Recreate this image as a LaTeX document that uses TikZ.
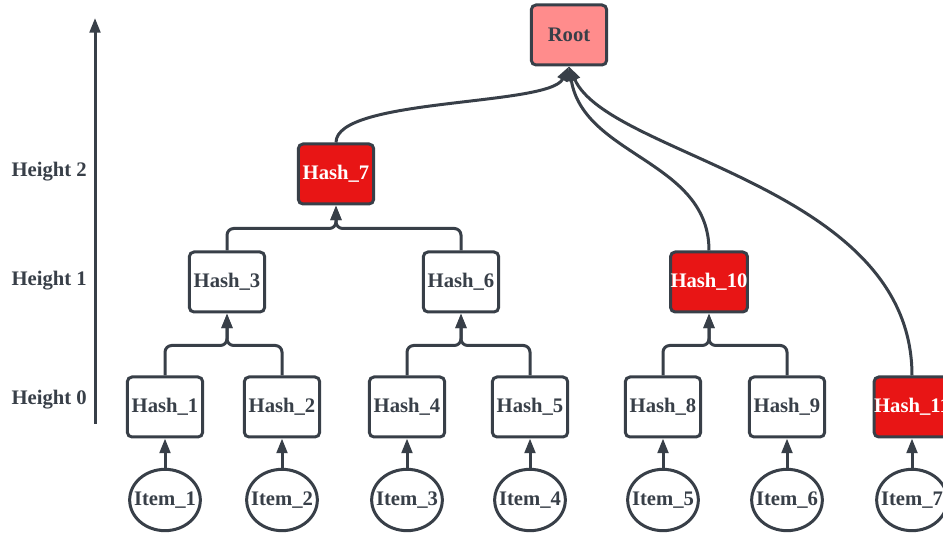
\documentclass[tikz,border=0pt]{standalone}
\usepackage{fontspec}
\setmainfont{Liberation Serif}
\usetikzlibrary{arrows.meta,shapes.geometric,positioning}
\definecolor{ink}{HTML}{383F48}
\definecolor{hashred}{HTML}{E81515}
\definecolor{rootpink}{HTML}{FF8C8C}
\tikzset{
  hbox/.style={draw=ink,line width=2.25pt,rounded corners=3.5pt,fill=white,text=ink,font=\fontsize{15.5}{18}\selectfont\bfseries,minimum width=56.5pt,minimum height=45pt,inner sep=0pt},
  redbox/.style={hbox,fill=hashred,text=white},
  rootbox/.style={hbox,fill=rootpink},
  item/.style={draw=ink,ellipse,line width=2.25pt,fill=white,text=ink,font=\fontsize{15.5}{18}\selectfont\bfseries,minimum width=52pt,minimum height=46pt,inner xsep=-4.5pt,inner ysep=0pt},
  link/.style={draw=ink,line width=2.25pt,-{Triangle[length=11pt,width=8pt]}},
  lvl/.style={font=\fontsize{15.5}{18}\selectfont\bfseries,text=ink,anchor=east,inner sep=0pt}
}
\begin{document}
\begin{tikzpicture}[x=0.75pt,y=0.75pt]
\useasboundingbox (0,0) rectangle (943,535);
\clip (0,0) rectangle (943,535);
% height axis
\coordinate (ax0) at (95,111);
\coordinate (ax1) at (95,517);
\draw[link] (ax0) -- (ax1);
\node[lvl] (lv2) at (87,363) {Height 2};
\node[lvl] (lv1) at (87,254) {Height 1};
\node[lvl] (lv0) at (87,135) {Height 0};
% leaves and items
\foreach \n/\h/\x/\s in {1/1/165/hbox,2/2/282/hbox,3/4/407/hbox,4/5/530/hbox,5/8/663/hbox,6/9/787/hbox,7/11/912/redbox}{
  \node[\s] (h\h) at (\x,128) {Hash\_\h};
  \node[item] (i\n) at (\x,35) {Item\_\n};
  \draw[link] (i\n) -- (h\h);
}
% upper levels
\node[hbox] (h3) at (227,253) {Hash\_3};
\node[hbox] (h6) at (461,253) {Hash\_6};
\node[redbox] (h10) at (709,253) {Hash\_10};
\node[redbox] (h7) at (336,361) {Hash\_7};
\node[rootbox] (root) at (569,500) {Root};
\foreach \c/\p in {1/3,2/3,4/6,5/6,8/10,9/10}
  \draw[link,rounded corners=5pt] (h\c.north) -- ++(0,30) -| (h\p.south);
\foreach \c in {3,6}
  \draw[link,rounded corners=5pt] (h\c.north) -- ++(0,22) -| (h7.south);
\draw[link] (h7.north) .. controls +(0,45) and +(-20,-40) .. (root.south);
\draw[link] (h10.north) .. controls +(0,90) and +(15,-90) .. (root.south);
\draw[link] (h11.north) .. controls +(0,190) and +(40,-90) .. (root.south);
\end{tikzpicture}
\end{document}
